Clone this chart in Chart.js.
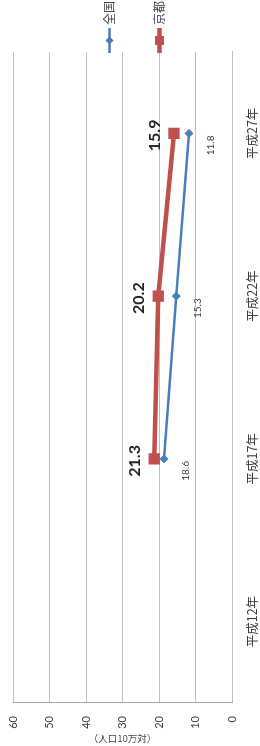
<!DOCTYPE html>
<html>
<head>
<meta charset="utf-8">
<script src="https://cdn.jsdelivr.net/npm/chart.js@4/dist/chart.umd.min.js"></script>
<style>
    html, body { margin: 0; padding: 0; background: #fff; overflow: hidden; }
    #wrap {
        position: absolute; left: 0; top: 0;
        width: 746px; height: 260px;
        transform-origin: 0 0;
        transform: translateY(746px) rotate(-90deg);
    }
</style>
</head>
<body>
<div id="wrap"><canvas id="grafico" width="746" height="260"></canvas></div>
<script>
const anos = ['平成12年', '平成17年', '平成22年', '平成27年'];
const zenkoku = [null, 18.6, 15.3, 11.8];
const kyoto = [null, 21.3, 20.2, 15.9];
const yMin = 0, yMax = 60, yStep = 10;
const yTitulo = '（人口10万対）';

const numFont = 'Lato, "Noto Sans CJK JP", sans-serif';
const jpFont = '"Noto Sans CJK JP", sans-serif';

// rótulos de dados, legenda com linha e título do eixo (girado ao contrário)
const extras = {
    id: 'extras',
    afterDatasetsDraw(chart) {
        const ctx = chart.ctx;
        const area = chart.chartArea;
        ctx.save();
        ctx.textAlign = 'center';
        ctx.textBaseline = 'middle';

        chart.data.datasets.forEach((ds, i) => {
            const meta = chart.getDatasetMeta(i);
            meta.data.forEach((pt, j) => {
                if (ds.data[j] == null) return;
                if (i === 1) {
                    ctx.font = 'bold 16px ' + numFont;
                    ctx.fillStyle = '#262626';
                    ctx.fillText(ds.data[j].toFixed(1), pt.x - 2, pt.y - 19);
                } else {
                    ctx.font = '10px ' + numFont;
                    ctx.fillStyle = '#404040';
                    ctx.fillText(ds.data[j].toFixed(1), pt.x - 12, pt.y + 22);
                }
            });
        });

        // legenda
        const midY = (area.top + area.bottom) / 2 + 12;
        chart.data.datasets.forEach((ds, i) => {
            const y = midY - 25 + i * 50;
            const x0 = area.right - 1, x1 = area.right + 24, cx = (x0 + x1) / 2;
            ctx.strokeStyle = ds.borderColor;
            ctx.lineWidth = ds.borderWidth;
            ctx.beginPath();
            ctx.moveTo(x0, y);
            ctx.lineTo(x1, y);
            ctx.stroke();
            ctx.fillStyle = ds.backgroundColor;
            ctx.beginPath();
            if (ds.pointStyle === 'rect') {
                ctx.rect(cx - 4.5, y - 4.5, 9, 9);
            } else {
                ctx.moveTo(cx - 4, y);
                ctx.lineTo(cx, y - 4);
                ctx.lineTo(cx + 4, y);
                ctx.lineTo(cx, y + 4);
                ctx.closePath();
            }
            ctx.fill();
            ctx.font = '12px ' + jpFont;
            ctx.fillStyle = '#404040';
            ctx.textAlign = 'left';
            ctx.fillText(ds.label, x1 + 3, y);
            ctx.textAlign = 'center';
        });

        // título do eixo y
        ctx.translate(8, (area.top + area.bottom) / 2);
        ctx.rotate(Math.PI / 2);
        ctx.font = '9.5px ' + jpFont;
        ctx.fillStyle = '#404040';
        ctx.fillText(yTitulo, 0, 0);
        ctx.restore();
    }
};

new Chart(document.getElementById('grafico'), {
    type: 'line',
    data: {
        labels: anos,
        datasets: [{
            label: '全国',
            data: zenkoku,
            borderColor: '#4a7ebb',
            backgroundColor: '#4a7ebb',
            borderWidth: 2.5,
            pointStyle: 'rectRot',
            pointRadius: 4.5,
            pointBorderWidth: 0,
            tension: 0
        }, {
            label: '京都',
            data: kyoto,
            borderColor: '#c0504d',
            backgroundColor: '#c0504d',
            borderWidth: 4.5,
            pointStyle: 'rect',
            pointRadius: 8,
            pointBorderWidth: 0,
            tension: 0
        }]
    },
    options: {
        responsive: false,
        animation: false,
        layout: { padding: { top: 13, right: 52, left: 0, bottom: 0 } },
        plugins: {
            legend: { display: false },
            tooltip: { enabled: false }
        },
        scales: {
            x: {
                offset: true,
                grid: { display: false },
                border: { display: true, color: '#bfbfbf', width: 1 },
                ticks: {
                    padding: 5,
                    color: '#404040',
                    font: { family: jpFont, size: 12.5 },
                    maxRotation: 0, minRotation: 0
                },
                afterFit(scale) { scale.height = 28; }
            },
            y: {
                min: yMin,
                max: yMax,
                ticks: {
                    stepSize: yStep,
                    padding: 13,
                    color: '#404040',
                    font: { family: numFont, size: 11 }
                },
                grid: { color: '#bfbfbf', drawTicks: false },
                border: { display: true, color: '#a6a6a6', width: 1 },
                afterFit(scale) {
                    scale.width = 43;
                    scale.paddingTop = 0;
                    scale.paddingBottom = 0;
                }
            }
        }
    },
    plugins: [extras]
});
</script>
</body>
</html>
